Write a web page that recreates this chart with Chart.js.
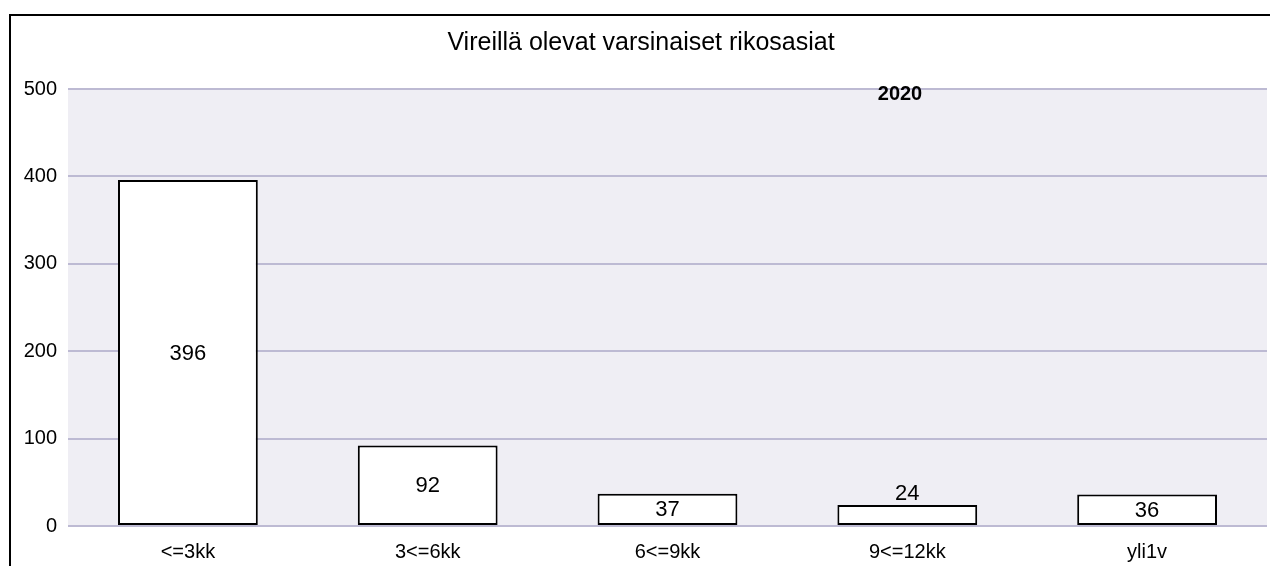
<!DOCTYPE html>
<html><head><meta charset="utf-8">
<script src="https://cdn.jsdelivr.net/npm/chart.js@4/dist/chart.umd.min.js"></script>
<style>html,body{margin:0;padding:0;background:#fff}#wrap{width:1270px;height:566px;position:relative}</style>
</head><body><div id="wrap"><canvas id="c" width="1270" height="566"></canvas></div>
<script>
const categories = ['<=3kk', '3<=6kk', '6<=9kk', '9<=12kk', 'yli1v'];
const values = [396, 92, 37, 24, 36];
const yTicks = [0, 100, 200, 300, 400, 500];
const titleText = 'Vireillä olevat varsinaiset rikosasiat';
const seriesName = '2020';
const FONT = '"Liberation Sans", Arial, sans-serif';

const decor = {
  id: 'decor',
  beforeDraw(chart) {
    const {ctx, chartArea: a} = chart;
    ctx.save();
    ctx.fillStyle = '#EFEEF4';
    ctx.fillRect(a.left, a.top, a.right - a.left, a.bottom - a.top);
    ctx.restore();
  },
  afterDraw(chart) {
    const {ctx, chartArea: a} = chart;
    ctx.save();
    ctx.strokeStyle = '#000';
    ctx.lineWidth = 2;
    ctx.beginPath();
    ctx.moveTo(10, 600); ctx.lineTo(10, 15); ctx.lineTo(1300, 15);
    ctx.stroke();
    ctx.fillStyle = '#000';
    ctx.font = '25px ' + FONT;
    ctx.textAlign = 'center';
    ctx.textBaseline = 'middle';
    ctx.fillText(titleText, 641, 43);
    ctx.font = 'bold 20px ' + FONT;
    ctx.fillText(seriesName, 900, 94);
    const meta = chart.getDatasetMeta(0);
    ctx.font = '22px ' + FONT;
    meta.data.forEach((bar, i) => {
      const h = bar.base - bar.y;
      let y = (bar.y + bar.base) / 2 + 1;
      if (h < 26) y = bar.y - 11;
      ctx.fillText(String(values[i]), bar.x, y);
    });
    ctx.restore();
  }
};

new Chart(document.getElementById('c'), {
  type: 'bar',
  data: {
    labels: categories,
    datasets: [{
      label: seriesName,
      data: values,
      backgroundColor: '#FFFFFF',
      borderColor: '#000000',
      borderWidth: 2,
      borderSkipped: false,
      barPercentage: 0.583,
      categoryPercentage: 1
    }]
  },
  options: {
    responsive: false,
    animation: false,
    devicePixelRatio: 1,
    layout: {padding: {top: 89, right: 3, bottom: 0, left: 0}},
    plugins: {legend: {display: false}, tooltip: {enabled: false}, title: {display: false}},
    scales: {
      x: {
        grid: {display: false, drawTicks: false},
        border: {display: false},
        ticks: {color: '#000', font: {family: FONT, size: 20}, padding: 14, maxRotation: 0},
        afterFit(s) { s.height = 40; }
      },
      y: {
        min: 0, max: 500,
        afterBuildTicks(s) { s.ticks = yTicks.map(v => ({value: v})); },
        grid: {color: '#BDBAD3', lineWidth: 2, drawTicks: false},
        border: {display: false},
        ticks: {color: '#000', font: {family: FONT, size: 20}, padding: 11},
        afterFit(s) { s.width = 68; }
      }
    }
  },
  plugins: [decor]
});
</script></body></html>
